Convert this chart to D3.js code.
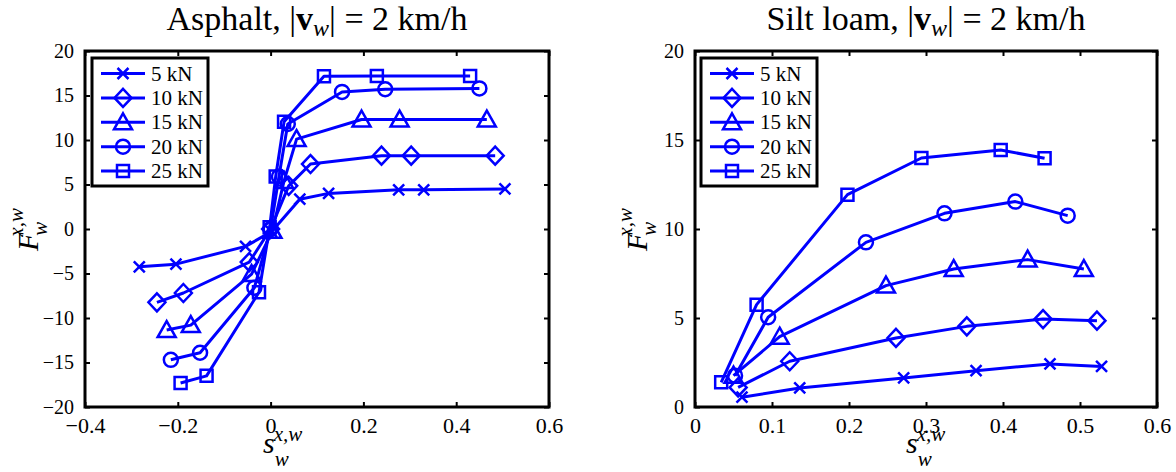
<!DOCTYPE html>
<html><head><meta charset="utf-8">
<script src="https://cdn.jsdelivr.net/npm/d3@7"></script>
<style>body{margin:0;background:#fff}svg{display:block}</style>
</head><body>
<svg id="c" width="1176" height="472"></svg>
<script>
// ---- data ----
const loads = ["5 kN","10 kN","15 kN","20 kN","25 kN"];
const markers = ["x","diamond","triangle","circle","square"];

// Asphalt
const asph5x  = [-0.283,-0.204,-0.054,0.002,0.063,0.125,0.276,0.330,0.505];
const asph5y  = [-4.25,-3.95,-1.95,-0.3,3.35,4.0,4.4,4.4,4.5];
const asph10x = [-0.245,-0.188,-0.046,0.0,0.039,0.086,0.239,0.303,0.484];
const asph10y = [-8.24,-7.19,-3.72,0.0,4.85,7.3,8.24,8.24,8.24];
const asph15x = [-0.224,-0.172,-0.041,0.004,0.029,0.056,0.196,0.278,0.466];
const asph15y = [-11.35,-10.8,-5.06,-0.2,5.4,10.1,12.3,12.3,12.3];
const asph20x = [-0.215,-0.152,-0.035,0.0,0.018,0.037,0.154,0.247,0.450];
const asph20y = [-14.7,-13.9,-6.6,0.0,5.9,11.8,15.4,15.7,15.8];
const asph25x = [-0.194,-0.138,-0.025,-0.002,0.011,0.029,0.115,0.229,0.430];
const asph25y = [-17.3,-16.5,-7.1,0.2,5.9,12.06,17.15,17.2,17.2];

// Silt loam
const silt5x  = [0.061,0.136,0.271,0.365,0.461,0.528];
const silt5y  = [0.55,1.07,1.63,2.04,2.42,2.28];
const silt10x = [0.056,0.123,0.261,0.353,0.452,0.522];
const silt10y = [1.1,2.57,3.88,4.53,4.94,4.85];
const silt15x = [0.050,0.110,0.248,0.336,0.432,0.505];
const silt15y = [1.76,3.95,6.82,7.75,8.28,7.75];
const silt20x = [0.052,0.095,0.222,0.324,0.416,0.484];
const silt20y = [1.76,5.04,9.25,10.88,11.54,10.75];
const silt25x = [0.034,0.080,0.198,0.294,0.397,0.454];
const silt25y = [1.39,5.75,11.93,13.99,14.44,13.97];

const asphXTicks = [-0.4,-0.2,0,0.2,0.4,0.6];
const asphYTicks = [-20,-15,-10,-5,0,5,10,15,20];
const siltXTicks = [0,0.1,0.2,0.3,0.4,0.5,0.6];
const siltYTicks = [0,5,10,15,20];

// ---- drawing ----
const svg = d3.select("#c").attr("font-family","Liberation Serif, DejaVu Serif, serif");
const FONT = "Liberation Serif, DejaVu Serif, serif";
const blue = "#0000ff";

const markerPath = {
  x: "M-5.5,-5.5L5.5,5.5M-5.5,5.5L5.5,-5.5",
  diamond: "M0,-9L8.5,0L0,9L-8.5,0Z",
  triangle: "M0,-9L9,7L-9,7Z",
  circle: d3.symbol(d3.symbolCircle, Math.PI*49)(),
  square: "M-6,-6H6V6H-6Z"
};

function fmt(v){ const s = (Math.round(v*10)/10).toString(); return s.replace("-","\u2212"); }

function panel(cfg){
  const {x0,x1,y0,y1,xdom,ydom,xticks,yticks,series,title,legendX,ylabX,xlabX} = cfg;
  const x = d3.scaleLinear().domain(xdom).range([x0,x1]);
  const y = d3.scaleLinear().domain(ydom).range([y1,y0]);
  const g = svg.append("g");

  // series
  const line = d3.line().x(d=>x(d[0])).y(d=>y(d[1]));
  series.forEach((s,i)=>{
    const pts = s.xs.map((v,j)=>[v,s.ys[j]]);
    g.append("path").attr("d",line(pts)).attr("fill","none")
      .attr("stroke",blue).attr("stroke-width",3).attr("stroke-linejoin","round");
    g.selectAll(null).data(pts).enter().append("path")
      .attr("d",markerPath[markers[i]])
      .attr("transform",d=>`translate(${x(d[0])},${y(d[1])})`)
      .attr("fill","none").attr("stroke",blue).attr("stroke-width",2.5);
  });

  // axes (inward ticks on all sides)
  const tl = 5;
  const style = (a, fs) => {
    a.attr("font-family",FONT);
    a.select(".domain").remove();
    a.selectAll("line").attr("stroke","#000").attr("stroke-width",2);
    a.selectAll("text").attr("font-family",FONT).attr("font-size",fs).attr("fill","#000");
  };
  g.append("g").attr("transform",`translate(0,${y1})`)
    .call(d3.axisBottom(x).tickValues(xticks).tickSize(-tl).tickPadding(10).tickFormat(fmt))
    .call(a=>style(a,22));
  g.append("g").attr("transform",`translate(0,${y0})`)
    .call(d3.axisTop(x).tickValues(xticks).tickSize(-tl).tickFormat(""))
    .call(a=>style(a,22));
  g.append("g").attr("transform",`translate(${x0},0)`)
    .call(d3.axisLeft(y).tickValues(yticks).tickSize(-tl).tickPadding(11).tickFormat(fmt))
    .call(a=>style(a,20));
  g.append("g").attr("transform",`translate(${x1},0)`)
    .call(d3.axisRight(y).tickValues(yticks).tickSize(-tl).tickFormat(""))
    .call(a=>style(a,20));
  g.append("rect").attr("x",x0).attr("y",y0).attr("width",x1-x0).attr("height",y1-y0)
    .attr("fill","none").attr("stroke","#000").attr("stroke-width",3);

  // legend
  const lg = g.append("g");
  lg.append("rect").attr("x",legendX).attr("y",58).attr("width",116).attr("height",128)
    .attr("fill","#fff").attr("stroke","#000").attr("stroke-width",3);
  loads.forEach((name,i)=>{
    const yy = 73.5 + i*24.4;
    lg.append("line").attr("x1",legendX+9).attr("x2",legendX+53).attr("y1",yy).attr("y2",yy)
      .attr("stroke",blue).attr("stroke-width",3);
    lg.append("path").attr("d",markerPath[markers[i]]).attr("transform",`translate(${legendX+31},${yy})`)
      .attr("fill","none").attr("stroke",blue).attr("stroke-width",2.5);
    lg.append("text").attr("x",legendX+59).attr("y",yy+7).attr("font-family",FONT)
      .attr("font-size",21).text(name);
  });

  // title
  const cx = (x0+x1)/2;
  const t = svg.append("text").attr("x",cx).attr("y",30).attr("text-anchor","middle")
    .attr("font-family",FONT).attr("font-size",34);
  t.append("tspan").text(title+", |");
  t.append("tspan").attr("font-weight","bold").text("v");
  t.append("tspan").attr("font-style","italic").attr("font-size",24).attr("dy",6).text("w");
  t.append("tspan").attr("dy",-6).text("| = 2 km/h");

  // x label
  const xl = svg.append("text").attr("x",xlabX).attr("y",453).attr("font-family",FONT)
    .attr("font-style","italic").attr("font-size",30);
  xl.append("tspan").text("s");
  xl.append("tspan").attr("font-size",21).attr("dy",13).text("w");
  xl.append("tspan").attr("font-size",21).attr("dy",-25).attr("dx",-15).text("x,w");

  // y label
  const yl = svg.append("text").attr("transform",`translate(${ylabX},${(y0+y1)/2+22}) rotate(-90)`)
    .attr("font-family",FONT).attr("font-style","italic").attr("font-size",30);
  yl.append("tspan").text("F");
  yl.append("tspan").attr("font-size",21).attr("dy",9).attr("dx",-3).text("w");
  yl.append("tspan").attr("font-size",21).attr("dy",-24).attr("dx",-15).text("x,w");
}

panel({x0:85,x1:549,y0:51,y1:407,xdom:[-0.4,0.6],ydom:[-20,20],xticks:asphXTicks,yticks:asphYTicks,
  title:"Asphalt",legendX:92,ylabX:38,xlabX:263,
  series:[{xs:asph5x,ys:asph5y},{xs:asph10x,ys:asph10y},{xs:asph15x,ys:asph15y},{xs:asph20x,ys:asph20y},{xs:asph25x,ys:asph25y}]});
panel({x0:695,x1:1157,y0:51,y1:407,xdom:[0,0.6],ydom:[0,20],xticks:siltXTicks,yticks:siltYTicks,
  title:"Silt loam",legendX:701,ylabX:647,xlabX:906,
  series:[{xs:silt5x,ys:silt5y},{xs:silt10x,ys:silt10y},{xs:silt15x,ys:silt15y},{xs:silt20x,ys:silt20y},{xs:silt25x,ys:silt25y}]});
</script>
</body></html>
